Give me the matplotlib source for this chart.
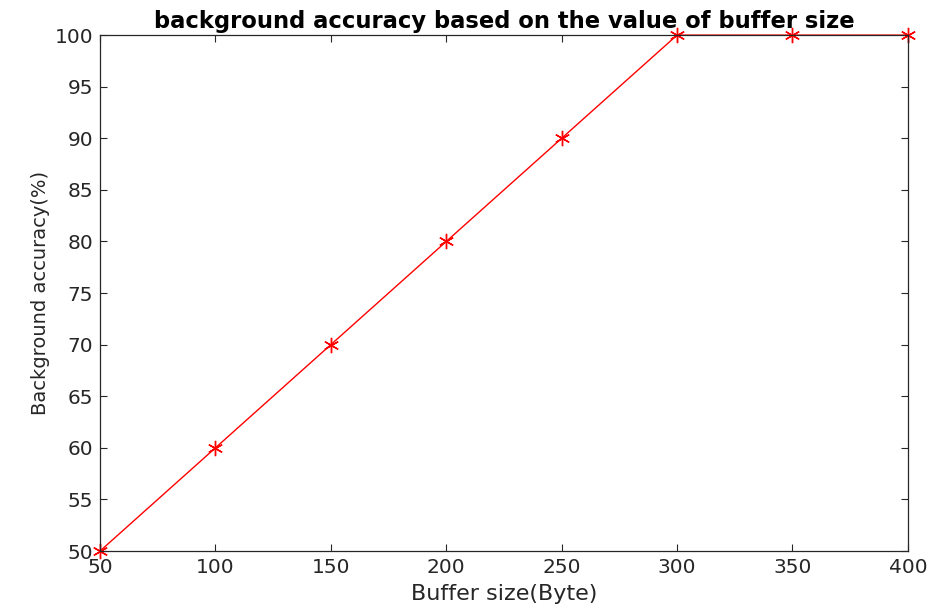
import matplotlib.pyplot as plt

buffer_size = [50, 100, 150, 200, 250, 300, 350, 400]
accuracy = [50, 60, 70, 80, 90, 100, 100, 100]

plt.rcParams['font.family'] = 'DejaVu Sans'
fig = plt.figure(figsize=(9.35, 6.16), dpi=100)
ax = fig.add_axes([0.107, 0.1055, 0.864, 0.8375])

ax.plot(buffer_size, accuracy, color='red', linewidth=1,
        marker=(6, 2, 0), markersize=11, markeredgewidth=1, clip_on=False)

ax.set_xlim(50, 400)
ax.set_ylim(50, 100)
ax.set_xticks(range(50, 401, 50))
ax.set_yticks(range(50, 101, 5))
ax.tick_params(direction='in', top=True, right=True, labelsize=14.5,
               length=5, colors='#262626', pad=5)
for s in ax.spines.values():
    s.set_color('#262626')
    s.set_linewidth(0.9)

ax.set_xlabel('Buffer size(Byte)', fontsize=16, color='#262626', labelpad=5)
ax.set_ylabel('Background accuracy(%)', fontsize=14, color='#262626', labelpad=3)
ax.set_title('background accuracy based on the value of buffer size',
             fontsize=16.3, fontweight='bold', pad=5)

fig.savefig('out.png', dpi=100)
